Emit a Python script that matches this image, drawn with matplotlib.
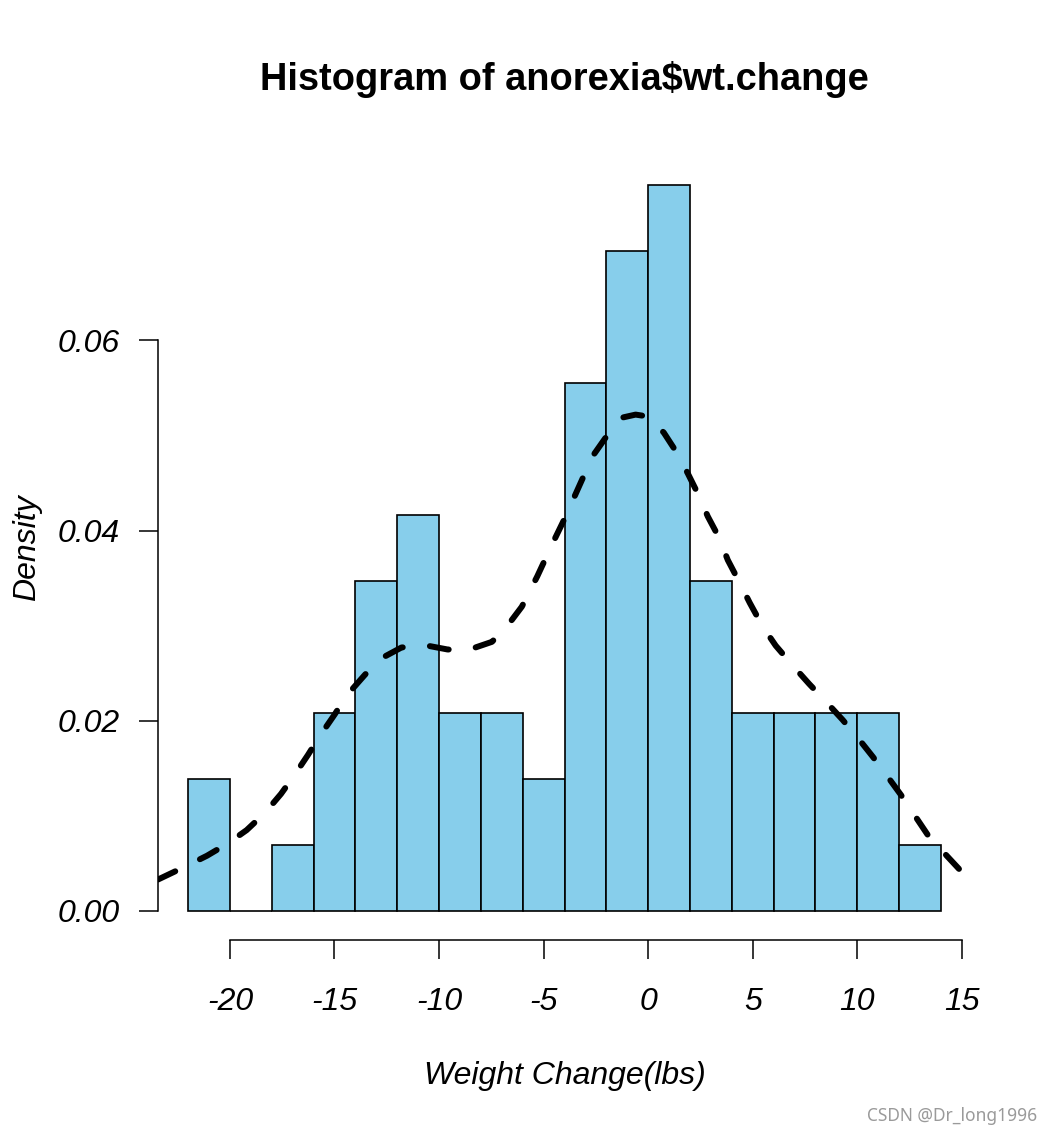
import numpy as np
import matplotlib
matplotlib.use("Agg")
import matplotlib.pyplot as plt

# histogram of anorexia$wt.change, breaks of width 2
bin_edges = [-22, -20, -18, -16, -14, -12, -10, -8, -6, -4, -2, 0, 2, 4, 6, 8, 10, 12, 14]
bin_counts = [2, 0, 1, 3, 5, 6, 3, 3, 2, 8, 10, 11, 5, 3, 3, 3, 3, 1]

# density curve
dens_x = [-23.44, -22.2, -21.1, -20.1, -19.2, -18.33, -17.56, -16.94, -16.27, -15.7,
          -14.98, -14.4, -13.6, -12.9, -11.8, -10.8, -9.6, -8.67, -7.47, -6.76,
          -6.04, -5.3, -4.56, -4.03, -3.6, -3.07, -2.6, -1.93, -1.21, -0.6,
          0.0, 0.75, 1.37, 1.9, 2.42, 2.85, 3.38, 3.81, 4.38, 4.86,
          5.48, 6.1, 6.96, 7.69, 8.59, 9.3, 10.1, 10.75, 11.46, 12.09,
          12.76, 13.37, 14.28, 15.0, 15.43]
dens_y = [0.0033, 0.0046, 0.0058, 0.0071, 0.0085, 0.0103, 0.0123, 0.0142, 0.0164, 0.0184,
          0.0207, 0.0227, 0.0247, 0.0264, 0.0277, 0.0280, 0.0275, 0.0274, 0.0283, 0.0299,
          0.0320, 0.0352, 0.0387, 0.0411, 0.0432, 0.0458, 0.0480, 0.0501, 0.0519, 0.0522,
          0.0520, 0.0503, 0.0482, 0.0460, 0.0437, 0.0415, 0.0393, 0.0369, 0.0345, 0.0324,
          0.0299, 0.0279, 0.0257, 0.0239, 0.0218, 0.0201, 0.0180, 0.0162, 0.0141, 0.0122,
          0.0100, 0.0080, 0.0058, 0.0041, 0.0030]

x_ticks = [-20, -15, -10, -5, 0, 5, 10, 15]
y_ticks = [0.00, 0.02, 0.04, 0.06]
y_labels = ["0.00", "0.02", "0.04", "0.06"]

plt.rcParams['font.family'] = ['Liberation Sans', 'DejaVu Sans']

W, H = 1052, 1136
fig = plt.figure(figsize=(W / 100, H / 100), dpi=100)
ax = fig.add_axes([158 / W, 1 - 940 / H, (971 - 158) / W, (940 - 156) / H])

centers = [(bin_edges[i] + bin_edges[i + 1]) / 2 for i in range(len(bin_counts))]
ax.hist(centers, bins=bin_edges, weights=bin_counts, density=True,
        color='#87CEEB', edgecolor='black', linewidth=1.2)

ax.plot(dens_x, dens_y, color='black', lw=4.3, dashes=(3.2, 4.6),
        dash_capstyle='round', solid_capstyle='round')

ax.set_xlim(-23.44, 15.44)
ax.set_ylim(-0.00306, 0.0794)

for s in ['top', 'right']:
    ax.spines[s].set_visible(False)
ax.spines['left'].set_bounds(0, 0.06)
ax.spines['bottom'].set_bounds(-20, 15)
for s in ['left', 'bottom']:
    ax.spines[s].set_linewidth(1.1)

ax.set_xticks(x_ticks)
ax.set_xticklabels([str(v) for v in x_ticks], fontsize=23, style='italic')
ax.set_yticks(y_ticks)
ax.set_yticklabels(y_labels, fontsize=23, style='italic')
ax.tick_params(axis='both', direction='out', length=13.7, width=1.1)
ax.tick_params(axis='x', pad=20.5)
ax.tick_params(axis='y', pad=13.7)

fig.text(564.5 / W, 1 - 80 / H, "Histogram of anorexia\\$wt.change",
         ha='center', va='center', fontsize=27.4, fontweight='bold')
fig.text(564.5 / W, 1 - 1076 / H, "Weight Change(lbs)",
         ha='center', va='center', fontsize=23, style='italic')
fig.text(27 / W, 1 - 548 / H, "Density", rotation=90,
         ha='center', va='center', fontsize=23, style='italic')
fig.text(1037 / W, 1 - 1116 / H, "CSDN @Dr_long1996", ha='right', va='center',
         fontsize=12.5, color='#9a9a9a', family=['Noto Sans', 'DejaVu Sans'])

fig.savefig("out.png", dpi=100)
